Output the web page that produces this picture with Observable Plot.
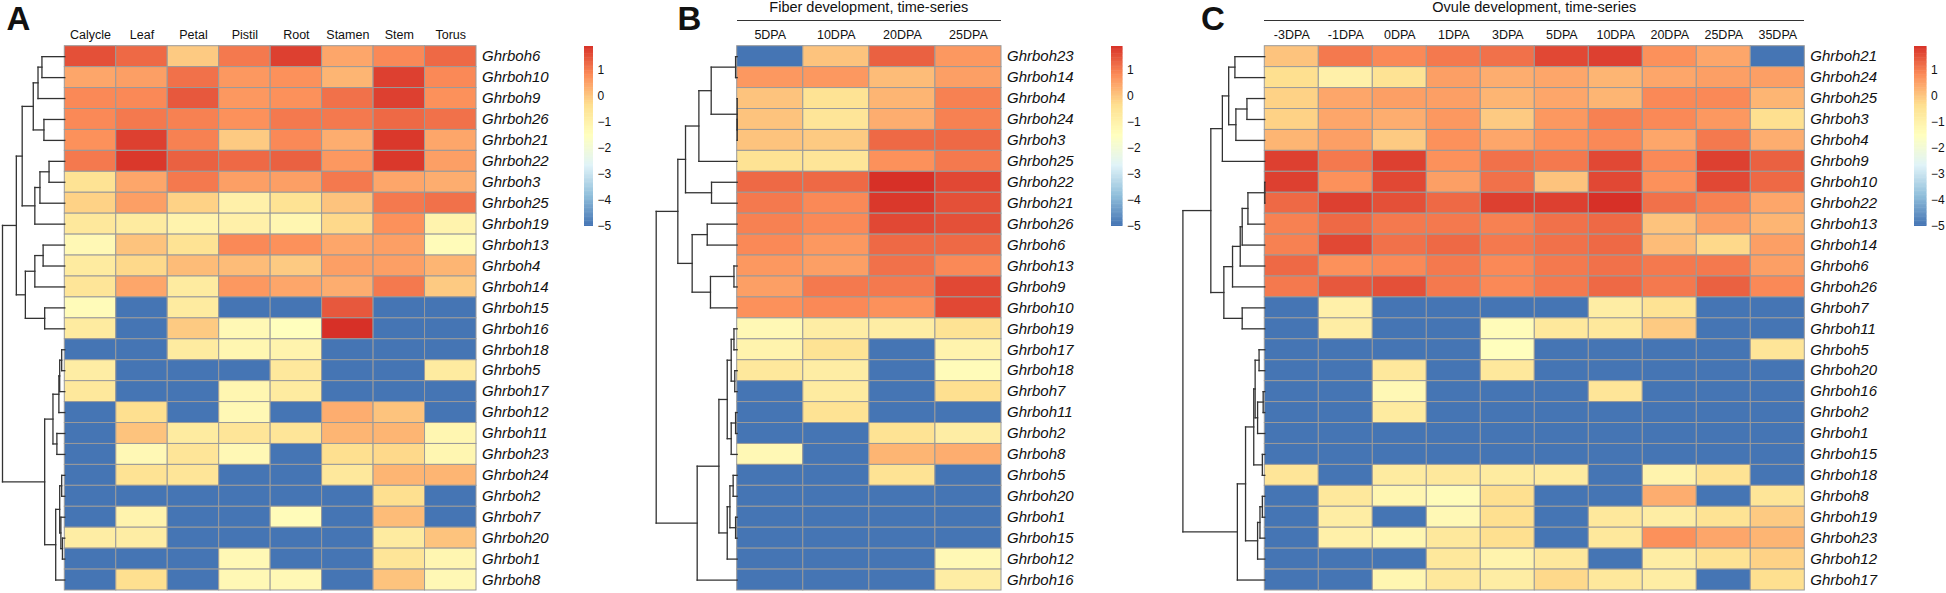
<!DOCTYPE html>
<html><head><meta charset="utf-8">
<script src="https://cdn.jsdelivr.net/npm/d3@7"></script>
<script src="https://cdn.jsdelivr.net/npm/@observablehq/plot@0.6"></script>
<style>
body{margin:0;background:#fff;}
#chart{position:relative;width:1946px;height:593px;overflow:hidden;font-family:"Liberation Sans",Arial,sans-serif;color:#111;}
#chart svg{position:absolute;left:0;top:0;background:transparent;}
.letter{position:absolute;top:0;font-weight:bold;font-size:33px;line-height:37px;}
.title{position:absolute;top:0;height:20px;font-size:14.5px;line-height:1;text-align:center;border-bottom:1.3px solid #333;}
</style></head>
<body><div id="chart"></div>
<script>
// ---------- data ----------
const colsA = ["Calycle","Leaf","Petal","Pistil","Root","Stamen","Stem","Torus"];
const colsB = ["5DPA","10DPA","20DPA","25DPA"];
const colsC = ["-3DPA","-1DPA","0DPA","1DPA","3DPA","5DPA","10DPA","20DPA","25DPA","35DPA"];

const genesA = [6,10,9,26,21,22,3,25,19,13,4,14,15,16,18,5,17,12,11,23,24,2,7,20,1,8];
const valuesA = [
  [1.5,1.2,-0.1,1.0,1.7,0.4,0.8,1.2],
  [0.4,0.5,1.1,0.6,0.7,0.2,1.7,0.8],
  [0.8,0.8,1.4,0.6,0.7,1.1,1.7,0.7],
  [0.8,1.0,0.9,0.7,1.0,1.0,1.2,1.1],
  [0.7,1.7,0.9,-0.1,0.8,0.3,1.8,0.4],
  [1.0,1.8,1.3,1.2,1.3,0.6,1.8,0.5],
  [-0.5,0.4,1.0,0.5,0.5,1.0,0.4,0.3],
  [-0.2,0.5,-0.2,-1.0,-0.5,0.0,1.0,1.1],
  [-0.7,-0.8,-1.1,-1.0,-1.2,-0.3,0.7,-1.1],
  [-1.3,0.0,-0.5,0.8,0.7,0.4,0.5,-1.4],
  [-0.8,-0.3,0.1,0.1,-0.1,0.5,0.5,0.2],
  [-0.6,0.4,-0.8,0.6,0.4,0.3,1.0,-0.1],
  [-1.4,-5,-0.8,-5,-5,1.4,-5,-5],
  [-0.8,-5,-0.1,-1.3,-1.5,1.9,-5,-5],
  [-5,-5,-0.8,-1.2,-1.1,-5,-5,-5],
  [-0.9,-5,-5,-5,-0.7,-5,-5,-0.8],
  [-0.7,-5,-5,-1.2,-0.8,-5,-5,-5],
  [-5,-0.4,-5,-1.3,-5,0.3,0.0,-5],
  [-5,0.0,-0.8,-0.6,-0.6,0.2,0.2,-1.2],
  [-5,-1.3,-0.6,-1.3,-5,-0.4,-0.3,-1.2],
  [-5,-0.5,-0.6,-5,-5,-0.7,0.2,0.2],
  [-5,-5,-5,-5,-5,-5,-0.4,-5],
  [-5,-1.1,-5,-5,-1.4,-5,0.1,-5],
  [-0.9,-0.9,-5,-5,-5,-5,-0.8,0.0],
  [-5,-5,-5,-1.3,-5,-5,-0.6,-1.2],
  [-5,-0.4,-5,-1.3,-1.3,-5,0.0,-1.3]
];
// dendrogram: [mergeHeight, left, right]; leaves are gene numbers
const treeA = [1,
  [0.323,
    [0.146, 6, [0.082, [0.063, [0.038, 10, 9], 26], [0.05, 21, 22]]],
    [0.19, [0.127, 3, 25], [0.095, 19, [0.082, 13, [0.05, 4, 14]]]]],
  [0.778,
    [0.633, [0.323, 15, 16], [0.481, 18, [0.348, 5, 17]]],
    [0.684, [0.481, 12, [0.399, 11, [0.253, 23, 24]]],
            [0.506, [0.335, 2, 7], [0.43, 20, [0.367, 1, 8]]]]]];

const genesB = [23,14,4,24,3,25,22,21,26,6,13,9,10,19,17,18,7,11,2,8,5,20,1,15,12,16];
const valuesB = [
  [-5,0.0,1.3,0.6],
  [0.6,0.6,0.1,0.5],
  [0.0,-0.5,0.2,0.9],
  [0.0,-0.6,0.3,0.9],
  [0.0,-0.1,1.2,1.2],
  [-0.5,-0.6,0.7,1.0],
  [1.2,1.2,1.9,1.6],
  [1.0,0.8,1.8,1.5],
  [0.9,0.8,1.6,1.5],
  [0.8,0.6,1.2,1.2],
  [0.6,0.5,1.1,0.8],
  [0.5,1.0,1.0,1.6],
  [0.7,0.8,0.7,1.6],
  [-1.3,-0.9,-0.9,-0.5],
  [-1.1,-0.5,-5,-1.1],
  [-0.7,-0.9,-5,-1.4],
  [-5,-0.8,-5,-0.4],
  [-5,-0.5,-5,-5],
  [-5,-5,-0.5,-0.9],
  [-1.3,-5,0.2,0.3],
  [-5,-5,-0.5,-5],
  [-5,-5,-5,-5],
  [-5,-5,-5,-5],
  [-5,-5,-5,-5],
  [-5,-5,-5,-1.3],
  [-5,-5,-5,-0.9]
];
const treeB = [1,
  [0.494, 23,
    [0.226,
      [0.123, 14, [0.09, [0.02, 4, 24], [0.05, 3, 25]]],
      [0.123, [0.074, 22, [0.02, 21, 26]], [0.074, [0.03, 6, 13], [0.04, 9, 10]]]]],
  [0.733,
    [0.556, [0.33, 19, [0.04, 17, 18]], [0.37, 7, 11]],
    [0.638, [0.317, 2, 8], [0.473, 5, [0.321, [0, [0, 20, 1], 15], [0.02, 12, 16]]]]]];

const genesC = [21,24,25,3,4,9,10,22,13,14,6,26,7,11,5,20,16,2,1,15,18,8,19,23,12,17];
const valuesC = [
  [0.0,1.0,0.8,1.0,1.1,1.6,1.7,0.7,0.4,-5],
  [-0.4,-1.0,-0.5,0.5,0.3,0.4,0.2,0.4,0.5,0.5],
  [-0.2,0.4,0.5,0.5,0.2,0.4,0.2,0.8,0.8,0.2],
  [-0.2,0.4,0.3,0.6,-0.1,0.6,0.9,0.8,0.6,-0.4],
  [0.2,0.5,-0.1,0.7,0.4,0.7,0.8,0.4,1.0,0.3],
  [1.7,1.0,1.7,0.7,1.1,1.0,1.6,0.8,1.7,1.3],
  [1.7,0.7,1.6,0.5,1.1,0.0,1.6,0.7,1.6,1.2],
  [1.2,1.7,1.5,1.2,1.7,1.7,1.9,1.1,0.9,0.4],
  [0.9,1.2,1.0,1.0,0.9,1.1,1.2,0.0,0.5,0.2],
  [0.9,1.6,1.1,1.2,1.0,1.1,1.2,0.1,-0.3,0.5],
  [1.2,0.7,0.8,1.0,0.8,1.0,1.1,1.0,1.0,0.5],
  [1.0,1.4,1.5,1.0,0.8,1.0,1.2,1.0,1.3,0.8],
  [-5,-1.0,-5,-5,-5,-5,-0.9,-0.5,-5,-5],
  [-5,-0.9,-5,-5,-1.4,-0.7,-0.7,-0.1,-5,-5],
  [-5,-5,-5,-5,-1.5,-5,-5,-5,-5,-0.6],
  [-5,-5,-0.7,-5,-0.7,-5,-5,-5,-5,-5],
  [-5,-5,-1.3,-5,-5,-5,-0.6,-5,-5,-5],
  [-5,-5,-0.8,-5,-5,-5,-5,-5,-5,-5],
  [-5,-5,-5,-5,-5,-5,-5,-5,-5,-5],
  [-5,-5,-5,-5,-5,-5,-5,-5,-5,-5],
  [-0.6,-5,-0.8,-0.7,-0.8,-0.8,-5,-1.1,-0.5,-5],
  [-5,-0.7,-1.2,-1.4,-0.4,-5,-5,0.3,-5,-0.6],
  [-5,-0.9,-5,-1.3,-0.4,-5,-0.7,-0.9,-0.5,-0.1],
  [-5,-1.0,-1.2,-0.7,-0.4,-5,-0.7,0.7,0.4,0.2],
  [-5,-5,-5,-0.7,-1.1,-0.7,-5,-0.9,-0.5,-0.2],
  [-5,-5,-1.2,-0.7,-0.9,-0.3,-0.7,-0.9,-5,-0.4]
];
const treeC = [1,
  [0.335, 21,
    [0.235,
      [0.088, 24, [0.059, 25, [0.03, 3, 4]]],
      [0.135, [0.03, 9, 10], [0.118, [0.088, 22, [0.02, 13, 14]], [0.07, 6, 26]]]]],
  [0.659,
    [0.5, [0.276, 7, 11], [0.394, 5, [0.3, 20, [0.276, 16, [0.206, 2, [0, 1, 15]]]]]],
    [0.518, 18, [0.441, [0.353, 8, [0.218, 19, 23]], [0.365, 12, 17]]]]];

const titles = [null, "Fiber development, time-series", "Ovule development, time-series"];
const letters = ["A", "B", "C"];
const colorStops = [-5, -3.85, -2.7, -1.55, -0.4, 0.75, 1.9];
const palette = ["#4575B4","#91BFDB","#E0F3F8","#FFFFBF","#FEE090","#FC8D59","#D73027"];
const legendTicks = [-5, -4, -3, -2, -1, 0, 1];

// ---------- layout ----------
const W = 1946, H = 593, TOP = 45.7, BOT = 590;
const layout = [
  {left: 64.3, right: 476, dLeft: 2, legL: 584, legR: 593, letterX: 6.5},
  {left: 736.7, right: 1001, dLeft: 655.7, legL: 1111, legR: 1122.5, letterX: 677.5},
  {left: 1264.3, right: 1804.3, dLeft: 1182.4, legL: 1914, legR: 1926.5, letterX: 1201}
];
const panels = [
  {cols: colsA, genes: genesA, values: valuesA, tree: treeA},
  {cols: colsB, genes: genesB, values: valuesB, tree: treeB},
  {cols: colsC, genes: genesC, values: valuesC, tree: treeC}
];

const color = {type: "linear", domain: colorStops, range: palette, interpolate: "rgb", clamp: true};
const FONT = "'Liberation Sans', Arial, sans-serif";
const chart = document.getElementById("chart");

function dendroSegments(tree, genes) {
  const pos = new Map(genes.map((g, i) => [g, i + 0.5]));
  const segs = [];
  (function walk(node) {
    if (!Array.isArray(node)) return {y: pos.get(node), h: 0};
    const [h, l, r] = node;
    const a = walk(l), b = walk(r);
    segs.push({x1: h, y1: a.y, x2: h, y2: b.y});
    segs.push({x1: h, y1: a.y, x2: a.h, y2: a.y});
    segs.push({x1: h, y1: b.y, x2: b.h, y2: b.y});
    return {y: (a.y + b.y) / 2, h};
  })(tree);
  return segs;
}

panels.forEach((p, k) => {
  const L = layout[k];
  const labels = p.genes.map(g => "Ghrboh" + g);
  const cells = [];
  p.values.forEach((row, i) => row.forEach((v, j) => cells.push({gene: labels[i], col: p.cols[j], v})));

  // heatmap
  chart.append(Plot.plot({
    width: W, height: H,
    marginTop: TOP, marginBottom: H - BOT, marginLeft: L.left, marginRight: W - L.right,
    style: {fontFamily: FONT, fontSize: "12.5px", background: "transparent", overflow: "visible"},
    x: {type: "band", domain: p.cols, padding: 0, round: false},
    y: {type: "band", domain: labels, padding: 0, round: false, axis: null},
    color,
    marks: [
      Plot.cell(cells, {x: "col", y: "gene", fill: "v", stroke: "#9a9a9a", strokeWidth: 1, inset: 0}),
      Plot.axisX({anchor: "top", tickSize: 0, tickPadding: 7, fontSize: 12.5, label: null, fill: "#111"}),
      Plot.text(labels, {y: d => d, frameAnchor: "right", dx: 5.5, textAnchor: "start",
        fontStyle: "italic", fontSize: 15, fill: "#111"})
    ]
  }));

  // dendrogram
  chart.append(Plot.plot({
    width: W, height: H,
    marginTop: TOP, marginBottom: H - BOT, marginLeft: L.dLeft, marginRight: W - L.left,
    style: {background: "transparent", overflow: "visible"},
    x: {type: "linear", domain: [1, 0], axis: null},
    y: {type: "linear", domain: [0, p.genes.length], axis: null},
    marks: [
      Plot.link(dendroSegments(p.tree, p.genes), {x1: "x1", y1: "y1", x2: "x2", y2: "y2",
        stroke: "#333", strokeWidth: 1.3, strokeLinecap: "square"})
    ]
  }));

  // colour legend
  const steps = d3.range(-5, 1.9, 0.05);
  chart.append(Plot.plot({
    width: W, height: H,
    marginTop: 46, marginBottom: H - 226, marginLeft: L.legL, marginRight: W - L.legR,
    style: {fontFamily: FONT, fontSize: "12px", background: "transparent", overflow: "visible"},
    x: {type: "linear", domain: [0, 1], axis: null},
    y: {type: "linear", domain: [-5, 1.9]},
    color,
    marks: [
      Plot.rect(steps, {x1: 0, x2: 1, y1: d => d, y2: d => Math.min(d + 0.07, 1.9), fill: d => d}),
      Plot.axisY({anchor: "right", ticks: legendTicks, tickSize: 0, tickPadding: 4, fontSize: 12,
        label: null, fill: "#111", tickFormat: d => (d < 0 ? "\u2212" + Math.abs(d) : String(d))})
    ]
  }));

  const lt = document.createElement("div");
  lt.className = "letter";
  lt.style.left = L.letterX + "px";
  lt.textContent = letters[k];
  chart.append(lt);

  if (titles[k]) {
    const t = document.createElement("div");
    t.className = "title";
    t.style.left = L.left + "px";
    t.style.width = (L.right - L.left) + "px";
    t.textContent = titles[k];
    chart.append(t);
  }
});
</script></body></html>
